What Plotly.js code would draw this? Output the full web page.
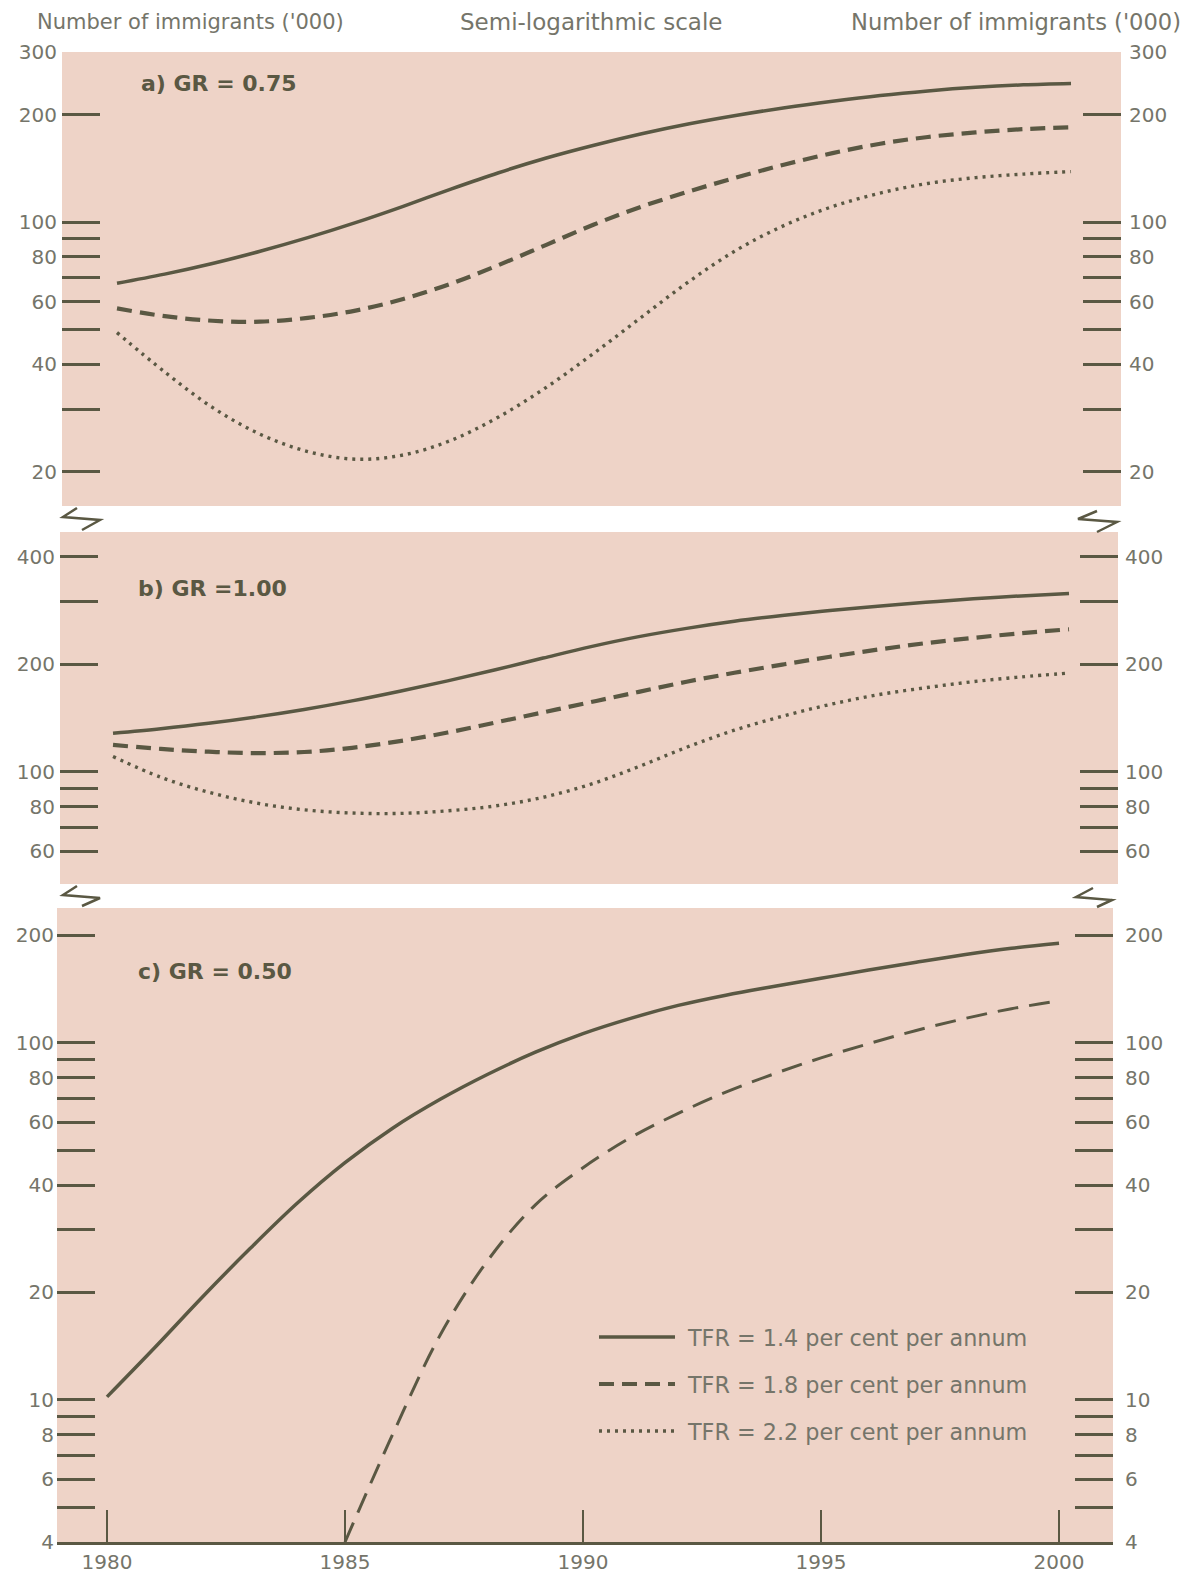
<!DOCTYPE html>
<html>
<head>
<meta charset="utf-8">
<script src="https://cdn.plot.ly/plotly-3.0.1.min.js"></script>
<style>
html,body{margin:0;padding:0;background:#ffffff;}
#chart{width:1184px;height:1574px;}
</style>
</head>
<body>
<div id="chart"></div>
<script>
// ---------------- data ----------------
const years = [1980,1981,1982,1983,1984,1985,1986,1987,1988,1989,1990,1991,1992,1993,1994,1995,1996,1997,1998,1999,2000];

// a) GR = 0.75
const aTFR14 = [67.5,71.6,76.7,83.0,90.6,99.8,110.9,123.9,137.7,151.4,164.4,177.0,188.8,199.5,209.4,218.3,226.5,233.3,238.8,242.7,244.9];
const aTFR18 = [57.4,54.6,53.0,52.7,54.0,56.6,61.0,67.3,75.9,86.5,98.6,110.7,122.2,133.7,145.2,156.3,166.0,173.4,178.6,182.4,184.5];
const aTFR22 = [49.1,38.1,30.3,25.5,22.8,21.7,22.3,24.5,28.5,34.5,43.0,54.3,68.4,83.8,98.2,110.7,120.8,128.5,133.4,136.5,138.7];

// b) GR = 1.00
const bTFR14 = [128.3,132.1,136.8,142.6,149.6,158.1,168.3,179.9,193.2,208.4,224.4,239.3,252.4,264.2,274.2,283.1,291.1,298.5,305.5,311.2,316.2];
const bTFR18 = [119.0,116.0,113.9,112.9,113.7,116.8,122.0,128.9,137.5,146.8,156.9,167.6,178.9,189.5,199.8,210.2,220.1,229.4,237.4,244.6,250.9];
const bTFR22 = [110.4,96.6,87.7,81.8,78.3,76.7,76.5,77.8,80.3,84.9,92.4,103.5,117.2,130.9,143.1,154.5,164.4,172.1,179.0,184.5,189.2];

// c) GR = 0.50
const cTFR14 = [10.2,14.0,19.4,26.5,35.6,46.2,57.7,69.5,81.7,94.2,106.2,117.2,127.4,136.1,143.9,151.7,160.0,168.3,176.6,184.1,190.1];
const cYears18 = [1985,1986,1987,1988,1989,1990,1991,1992,1993,1994,1995,1996,1997,1998,1999,2000];
const cTFR18 = [4.0,8.0,15.2,24.6,35.2,44.7,54.3,63.5,72.8,81.8,90.8,99.5,108.4,116.9,124.7,131.2];

const seriesNames = ["TFR = 1.4 per cent per annum","TFR = 1.8 per cent per annum","TFR = 2.2 per cent per annum"];
const panelTitles = ["a) GR = 0.75","b) GR =1.00","c) GR = 0.50"];

const xTickVals = [1980,1985,1990,1995,2000];
const xTickText = ["1980","1985","1990","1995","2000"];

const aTickVals = [20,30,40,50,60,70,80,90,100,200,300];
const aTickText = ["20","","40","","60","","80","","100","200","300"];
const bTickVals = [60,70,80,90,100,200,300,400];
const bTickText = ["60","","80","","100","200","","400"];
const cTickVals = [4,5,6,7,8,9,10,20,30,40,50,60,70,80,90,100,200];
const cTickText = ["4","","6","","8","","10","20","","40","","60","","80","","100","200"];

const headerLeft = "Number of immigrants ('000)";
const headerCenter = "Semi-logarithmic scale";
const headerRight = "Number of immigrants ('000)";

// ---------------- style ----------------
const W = 1184, H = 1574;
const px = v => v / W;
const py = v => 1 - v / H;
const INK = "#5a5843";
const GREY = "#75756a";
const PINK = "#eed3c7";
const FONT = "DejaVu Sans";

const solid = {color: INK, width: 3.5, shape: "spline", smoothing: 1};
const dashed = {color: INK, width: 4.2, dash: "15px,8px", shape: "spline", smoothing: 1};
const dotted = {color: INK, width: 3.4, dash: "3px,5px", shape: "spline", smoothing: 1};
const dashedC = {color: INK, width: 3, dash: "21px,11px", shape: "spline", smoothing: 1};

function tr(x, y, xa, ya, line, name, show, group) {
  return {type: "scatter", mode: "lines", x: x, y: y, xaxis: xa, yaxis: ya, line: line,
          name: name, showlegend: show, legendgroup: group, hoverinfo: "skip"};
}
// empty carriers so that the right-hand mirrored scales are drawn
function carrier(xa, ya) {
  return {type: "scatter", mode: "lines", x: [], y: [], xaxis: xa, yaxis: ya,
          showlegend: false, hoverinfo: "skip"};
}

const data = [
  tr(years, aTFR14, "x2", "y2", solid, seriesNames[0], true, "g1"),
  tr(years, aTFR18, "x2", "y2", dashed, seriesNames[1], true, "g2"),
  tr(years, aTFR22, "x2", "y2", dotted, seriesNames[2], true, "g3"),
  tr(years, bTFR14, "x3", "y3", solid, seriesNames[0], false, "g1"),
  tr(years, bTFR18, "x3", "y3", dashed, seriesNames[1], false, "g2"),
  tr(years, bTFR22, "x3", "y3", dotted, seriesNames[2], false, "g3"),
  tr(years, cTFR14, "x", "y", solid, seriesNames[0], false, "g1"),
  tr(cYears18, cTFR18, "x", "y", dashedC, seriesNames[1], false, "g2"),
  carrier("x", "y4"), carrier("x2", "y5"), carrier("x3", "y6")
];

const yBase = {type: "log", ticks: "inside", ticklen: 38, tickwidth: 2.5, tickcolor: INK,
  showgrid: false, zeroline: false, showline: false, fixedrange: true,
  tickfont: {family: FONT, size: 20, color: GREY}};

function yAx(extra) { return Object.assign({}, yBase, extra); }

const layout = {
  width: W, height: H,
  margin: {l: 0, r: 0, t: 0, b: 0},
  paper_bgcolor: "#ffffff",
  plot_bgcolor: PINK,
  font: {family: FONT, color: GREY},
  showlegend: true,
  legend: {x: px(597), y: py(1316), xanchor: "left", yanchor: "top",
    bgcolor: "rgba(0,0,0,0)", font: {family: FONT, size: 22.3, color: GREY},
    traceorder: "grouped", tracegroupgap: 15, itemwidth: 81},
  // panel c (bottom, with year axis)
  xaxis: {domain: [px(57), px(1113)], range: [1978.9496, 2001.134], anchor: "y",
    tickvals: xTickVals, ticktext: xTickText, ticks: "inside", ticklen: 32, tickwidth: 2,
    tickcolor: INK, showline: true, linecolor: INK, linewidth: 2.5, showgrid: false,
    zeroline: false, fixedrange: true, tickfont: {family: FONT, size: 20, color: GREY}},
  yaxis: yAx({domain: [py(1542), py(908)], range: [Math.log10(4), 2.378], anchor: "x",
    tickvals: cTickVals, ticktext: cTickText, ticklabelstandoff: 2}),
  yaxis4: yAx({overlaying: "y", side: "right", anchor: "x", range: [Math.log10(4), 2.378],
    tickvals: cTickVals, ticktext: cTickText, ticklabelstandoff: 11}),
  // panel a (top)
  xaxis2: {domain: [px(62), px(1121)], range: [1978.847, 2001.048], anchor: "y2",
    visible: false, fixedrange: true},
  yaxis2: yAx({domain: [py(506), py(52)], range: [1.2054, Math.log10(300)], anchor: "x2",
    tickvals: aTickVals, ticktext: aTickText, ticklabelstandoff: 4}),
  yaxis5: yAx({overlaying: "y2", side: "right", anchor: "x2", range: [1.2054, Math.log10(300)],
    tickvals: aTickVals, ticktext: aTickText, ticklabelstandoff: 7}),
  // panel b (middle)
  xaxis3: {domain: [px(60), px(1118)], range: [1978.891, 2001.025], anchor: "y3",
    visible: false, fixedrange: true},
  yaxis3: yAx({domain: [py(884), py(532)], range: [1.686, 2.672], anchor: "x3",
    tickvals: bTickVals, ticktext: bTickText, ticklabelstandoff: 4}),
  yaxis6: yAx({overlaying: "y3", side: "right", anchor: "x3", range: [1.686, 2.672],
    tickvals: bTickVals, ticktext: bTickText, ticklabelstandoff: 6}),
  annotations: [
    {text: headerLeft, xref: "paper", yref: "paper", x: px(35), y: py(22), xanchor: "left", yanchor: "middle",
     showarrow: false, font: {family: FONT, size: 21, color: GREY}},
    {text: headerCenter, xref: "paper", yref: "paper", x: px(591), y: py(22), xanchor: "center", yanchor: "middle",
     showarrow: false, font: {family: FONT, size: 23, color: GREY}},
    {text: headerRight, xref: "paper", yref: "paper", x: px(1183), y: py(22), xanchor: "right", yanchor: "middle",
     showarrow: false, font: {family: FONT, size: 22.6, color: GREY}},
    {text: "<b>" + panelTitles[0] + "</b>", xref: "paper", yref: "paper", x: px(139), y: py(83), xanchor: "left", yanchor: "middle",
     showarrow: false, font: {family: FONT, size: 22, color: INK}},
    {text: "<b>" + panelTitles[1] + "</b>", xref: "paper", yref: "paper", x: px(136), y: py(589), xanchor: "left", yanchor: "middle",
     showarrow: false, font: {family: FONT, size: 22, color: INK}},
    {text: "<b>" + panelTitles[2] + "</b>", xref: "paper", yref: "paper", x: px(136), y: py(971), xanchor: "left", yanchor: "middle",
     showarrow: false, font: {family: FONT, size: 22, color: INK}}
  ],
  shapes: []
};

// axis-break symbols between panels
function brk(pts) {
  let d = "";
  pts.forEach((p, i) => { d += (i === 0 ? "M" : " L") + px(p[0]).toFixed(5) + "," + py(p[1]).toFixed(5); });
  return {type: "path", xref: "paper", yref: "paper", path: d, line: {color: INK, width: 2.5}};
}
layout.shapes.push(brk([[77,508],[63,517],[100,520],[82,530]]));
layout.shapes.push(brk([[1097,511],[1078,519],[1117,522],[1097,532]]));
layout.shapes.push(brk([[77,886],[63,895],[100,898],[82,906]]));
layout.shapes.push(brk([[1093,888],[1076,897],[1112,900],[1097,907]]));

const gd = document.getElementById("chart");
function fixLegend() {
  // lengthen legend line samples to fill the widened key slot
  gd.querySelectorAll(".legend path.js-line").forEach(function (p) {
    p.setAttribute("d", "M2,0h76");
  });
}
Plotly.newPlot(gd, data, layout, {displayModeBar: false}).then(function () {
  fixLegend();
  gd.on("plotly_afterplot", fixLegend);
  setTimeout(fixLegend, 50);
});
</script>
</body>
</html>
